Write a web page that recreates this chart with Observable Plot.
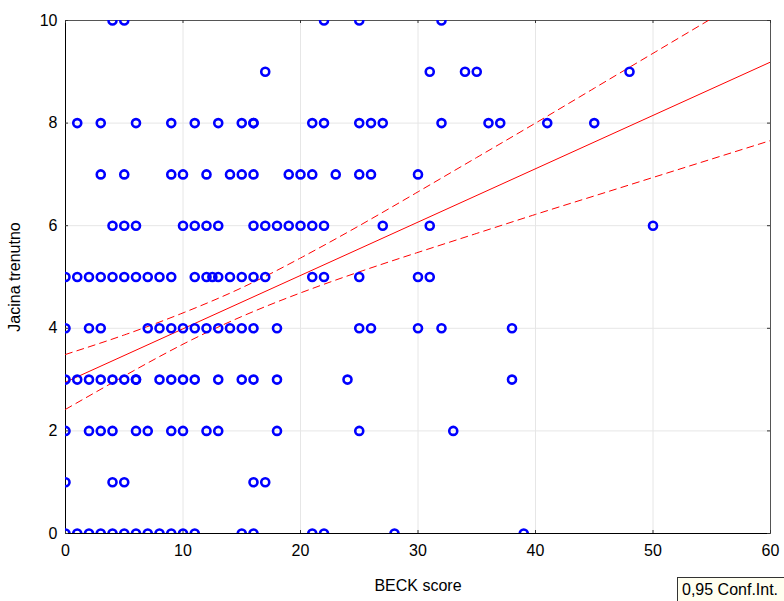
<!DOCTYPE html>
<html>
<head>
<meta charset="utf-8">
<script src="https://cdn.jsdelivr.net/npm/d3@7"></script>
<script src="https://cdn.jsdelivr.net/npm/@observablehq/plot@0.6"></script>
<style>
  html, body { margin: 0; padding: 0; background: #fff; overflow: hidden; }
  #wrap { position: relative; width: 784px; height: 601px; font-family: "Liberation Sans", Arial, sans-serif; }
  #legend { position: absolute; left: 677px; top: 577px; width: 120px; height: 26px; box-sizing: border-box;
            border: 1px solid #333; background: #fffff0; font-size: 16px; line-height: 24px; padding-left: 4px; color: #000; }
</style>
</head>
<body>
<div id="wrap"><div id="legend">0,95 Conf.Int.</div></div>
<script>
// BECK score values observed at each "Jacina trenutno" level
const beck10 = [4, 5, 22, 25, 32];
const beck9  = [17, 31, 34, 35, 48];
const beck8  = [1, 3, 6, 9, 11, 13, 15, 16, 16, 21, 22, 25, 26, 27, 32, 36, 37, 41, 45];
const beck7  = [3, 5, 9, 10, 12, 14, 15, 16, 19, 20, 21, 23, 25, 26, 30];
const beck6  = [4, 5, 6, 10, 11, 12, 13, 16, 17, 18, 19, 20, 21, 22, 27, 31, 50];
const beck5  = [0, 1, 2, 3, 4, 5, 6, 7, 8, 9, 11, 12, 12.5, 13, 14, 15, 16, 17, 21, 22, 25, 30, 31];
const beck4  = [0, 2, 3, 7, 8, 9, 10, 11, 12, 13, 14, 15, 16, 18, 25, 26, 30, 32, 38];
const beck3  = [0, 1, 2, 3, 4, 5, 6, 6, 8, 9, 10, 11, 13, 15, 16, 18, 24, 38];
const beck2  = [0, 2, 3, 4, 6, 7, 9, 10, 12, 13, 18, 25, 33];
const beck1  = [0, 4, 5, 16, 17];
const beck0  = [0, 1, 2, 3, 4, 5, 6, 7, 8, 9, 10, 11, 15, 16, 21, 22, 28, 39];

// regression line and 0.95 confidence band
const fitX   = [0, 60];
const fitY   = [2.95, 9.19];
const bandX  = [0, 5, 10, 15, 20, 25, 30, 35, 40, 45, 50, 55, 60];
const upperY = [3.49, 3.87, 4.30, 4.79, 5.37, 6.00, 6.66, 7.33, 8.00, 8.68, 9.36, 10.04, 10.72];
const lowerY = [2.42, 3.07, 3.69, 4.23, 4.69, 5.10, 5.48, 5.85, 6.22, 6.58, 6.94, 7.30, 7.66];

// ticks
const xTicks = [0, 10, 20, 30, 40, 50, 60];
const yTicks = [0, 2, 4, 6, 8, 10];
const xGrid = [10, 20, 30, 40, 50];
const yGrid = [2, 4, 6, 8];

const levels = [[0, beck0], [1, beck1], [2, beck2], [3, beck3], [4, beck4], [5, beck5],
                [6, beck6], [7, beck7], [8, beck8], [9, beck9], [10, beck10]];
const points = levels.flatMap(([j, arr]) => arr.map(b => ({beck: b, jacina: j})));
const fit = fitX.map((x, i) => ({x, y: fitY[i]}));
const upper = bandX.map((x, i) => ({x, y: upperY[i]}));
const lower = bandX.map((x, i) => ({x, y: lowerY[i]}));

const W = 784, H = 601;
const mT = 20, mB = 68, mL = 65, mR = 14;
const fh = H - mT - mB, fw = W - mL - mR;

const chart = Plot.plot({
  width: W, height: H,
  marginTop: mT, marginBottom: mB, marginLeft: mL, marginRight: mR,
  style: {fontFamily: "Liberation Sans, Arial, sans-serif", fontSize: "16px", color: "#000", background: "transparent"},
  x: {domain: [0, 60]},
  y: {domain: [0, 10]},
  marks: [
    Plot.ruleX(xGrid, {stroke: "#e6e6e6", strokeWidth: 1}),
    Plot.ruleY(yGrid, {stroke: "#e6e6e6", strokeWidth: 1}),
    Plot.frame({stroke: "#555", strokeWidth: 1}),
    Plot.ruleX([0], {stroke: "#000", strokeWidth: 1}),
    Plot.ruleY([0], {stroke: "#000", strokeWidth: 1}),
    // inward ticks
    Plot.tickX(xTicks, {insetTop: fh - 3, stroke: "#333"}),
    Plot.tickX(xTicks, {insetBottom: fh - 3, stroke: "#333"}),
    Plot.tickY(yTicks, {insetLeft: fw - 3, stroke: "#333"}),
    Plot.tickY(yTicks, {insetRight: fw - 3, stroke: "#333"}),
    Plot.axisX({ticks: xTicks, tickSize: 0, tickPadding: 11, tickFormat: d3.format("d"),
                label: "BECK score", labelAnchor: "center", labelOffset: 57, labelArrow: "none"}),
    Plot.axisY({ticks: yTicks, tickSize: 0, tickPadding: 8, tickFormat: d3.format("d"),
                label: "Jacina trenutno", labelAnchor: "center", labelOffset: 57, labelArrow: "none"}),
    Plot.line(upper, {x: "x", y: "y", stroke: "#ff0000", strokeWidth: 1, strokeDasharray: "7,5", curve: "natural", clip: true}),
    Plot.line(lower, {x: "x", y: "y", stroke: "#ff0000", strokeWidth: 1, strokeDasharray: "7,5", curve: "natural", clip: true}),
    Plot.line(fit, {x: "x", y: "y", stroke: "#ff0000", strokeWidth: 1, clip: true}),
    Plot.dot(points, {x: "beck", y: "jacina", r: 4, stroke: "#0000ff", strokeWidth: 2.6, fill: "none", clip: true})
  ]
});
document.getElementById("wrap").prepend(chart);
</script>
</body>
</html>
